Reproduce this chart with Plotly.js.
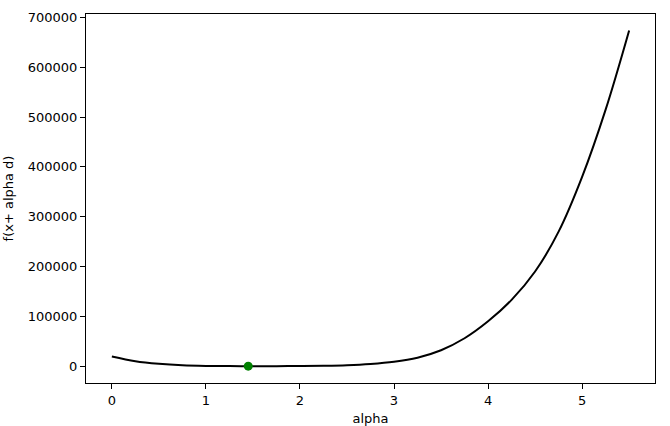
<!DOCTYPE html>
<html>
<head>
<meta charset="utf-8">
<script src="https://cdn.plot.ly/plotly-3.0.1.min.js"></script>
<style>html,body{margin:0;padding:0;background:#fff;}#chart{width:670px;height:426px;}</style>
</head>
<body>
<div id="chart"></div>
<script>
// alpha values and f(x + alpha d)
const alphaVals = [0, 0.25, 0.5, 0.75, 1.0, 1.25, 1.5, 1.75, 2.0, 2.25, 2.5, 2.75, 3.0, 3.25, 3.5, 3.75, 4.0, 4.25, 4.5, 4.75, 5.0, 5.25, 5.5];
const fVals = [19500, 10000, 4800, 1800, 500, 100, 0, 30, 200, 700, 1800, 4300, 8800, 17000, 32000, 56000, 90000, 133000, 190000, 270000, 380000, 515000, 674000];
// minimum found by the line search
const minAlpha = [1.45];
const minF = [0];

const xTicks = [0, 1, 2, 3, 4, 5];
const yTicks = [0, 100000, 200000, 300000, 400000, 500000, 600000, 700000];

const font = {family: 'DejaVu Sans', size: 13, color: '#000'};

const traces = [
  {x: alphaVals, y: fVals, type: 'scatter', mode: 'lines',
   line: {color: '#000', width: 2, shape: 'spline', smoothing: 1.0}, hoverinfo: 'skip'},
  {x: minAlpha, y: minF, type: 'scatter', mode: 'markers',
   marker: {color: 'green', size: 9}, hoverinfo: 'skip'}
];

const axisCommon = {
  showgrid: false, zeroline: false, showline: true, linecolor: '#000', linewidth: 1,
  mirror: true, ticks: 'outside', ticklen: 5, tickwidth: 1, tickcolor: '#000',
  tickfont: font
};

const layout = {
  width: 670, height: 426,
  margin: {l: 86, r: 15, t: 14, b: 43},
  paper_bgcolor: '#fff', plot_bgcolor: '#fff',
  showlegend: false,
  font: font,
  xaxis: Object.assign({}, axisCommon, {
    range: [-0.275, 5.775], tickvals: xTicks, ticktext: xTicks.map(String),
    title: {text: 'alpha', font: font, standoff: 7}, automargin: false
  }),
  yaxis: Object.assign({}, axisCommon, {
    range: [-33800, 707000], tickvals: yTicks, ticktext: yTicks.map(String),
    title: {text: 'f(x+ alpha d)', font: font, standoff: 11}, automargin: false
  })
};

Plotly.newPlot('chart', traces, layout, {staticPlot: true, displayModeBar: false});
</script>
</body>
</html>
